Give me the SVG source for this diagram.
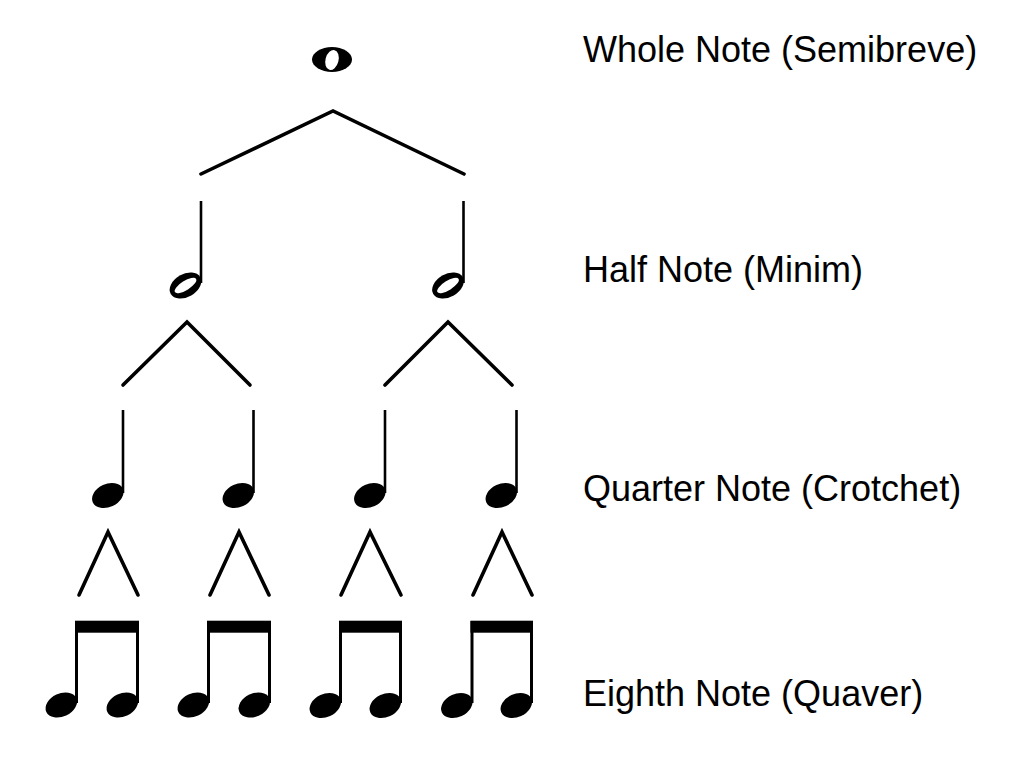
<svg xmlns="http://www.w3.org/2000/svg" xmlns:xlink="http://www.w3.org/1999/xlink" width="1024" height="767" viewBox="0 0 1024 767">
  <style>
    .lbl { font-family: "Liberation Sans", Arial, sans-serif; font-size: 36px; fill: #000; }
    .conn { fill: none; stroke: #000; stroke-width: 3.6; stroke-linecap: round; stroke-linejoin: miter; }
    .stem { stroke: #000; stroke-width: 2.6; }
    .stem8 { stroke: #000; stroke-width: 3; }
    .head { fill: #000; }
    .hole { fill: #fff; }
    .beam { fill: #000; }
  </style>
  <defs>
    <ellipse id="filled" class="head" cx="0" cy="0" rx="16.5" ry="11.5" transform="rotate(-25)"/>
    <g id="hollow">
      <ellipse class="head" cx="0" cy="0" rx="17" ry="11.5" transform="rotate(-30)"/>
      <ellipse class="hole" cx="0" cy="0" rx="12.5" ry="4.6" transform="rotate(-32)"/>
    </g>
  </defs>
  <rect x="0" y="0" width="1024" height="767" fill="#fff"/>

  <g id="connectors">
    <polyline class="conn" points="201,174 333,111 464,174"/>
    <polyline class="conn" points="123,385 187,322 250,385"/>
    <polyline class="conn" points="385,385 448,322 512,385"/>
    <polyline class="conn" points="79,595 108,532 138,595"/>
    <polyline class="conn" points="210,595 239,532 269,595"/>
    <polyline class="conn" points="341,595 370,532 401,595"/>
    <polyline class="conn" points="473,595 502,532 532,595"/>
  </g>

  <g id="whole-note">
    <ellipse class="head" cx="332" cy="59.5" rx="20" ry="12.5"/>
    <ellipse class="hole" cx="332" cy="60" rx="6.5" ry="10.2" transform="rotate(15 332 60)"/>
  </g>

  <g id="half-note-1">
    <line class="stem" x1="201" y1="201" x2="201" y2="283"/>
    <use xlink:href="#hollow" href="#hollow" transform="translate(185.5 285.5)"/>
  </g>
  <g id="half-note-2">
    <line class="stem" x1="463.5" y1="201" x2="463.5" y2="283"/>
    <use xlink:href="#hollow" href="#hollow" transform="translate(448 285.5)"/>
  </g>

  <g id="quarter-note-1">
    <line class="stem" x1="123" y1="410" x2="123" y2="493"/>
    <use xlink:href="#filled" href="#filled" transform="translate(107.8 495.5)"/>
  </g>
  <g id="quarter-note-2">
    <line class="stem" x1="253.5" y1="410" x2="253.5" y2="493"/>
    <use xlink:href="#filled" href="#filled" transform="translate(238.3 495.5)"/>
  </g>
  <g id="quarter-note-3">
    <line class="stem" x1="385" y1="410" x2="385" y2="493"/>
    <use xlink:href="#filled" href="#filled" transform="translate(369.8 495.5)"/>
  </g>
  <g id="quarter-note-4">
    <line class="stem" x1="516.5" y1="410" x2="516.5" y2="493"/>
    <use xlink:href="#filled" href="#filled" transform="translate(501.3 495.5)"/>
  </g>

  <g id="eighth-pair-1">
    <rect class="beam" x="75" y="620.7" width="64" height="12"/>
    <line class="stem8" x1="76.5" y1="621" x2="76.5" y2="703"/>
    <line class="stem8" x1="137.5" y1="621" x2="137.5" y2="703"/>
    <use xlink:href="#filled" href="#filled" transform="translate(61.3 705)"/>
    <use xlink:href="#filled" href="#filled" transform="translate(122.3 705)"/>
  </g>
  <g id="eighth-pair-2">
    <rect class="beam" x="207" y="620.7" width="64" height="12"/>
    <line class="stem8" x1="208.5" y1="621" x2="208.5" y2="703"/>
    <line class="stem8" x1="269.5" y1="621" x2="269.5" y2="703"/>
    <use xlink:href="#filled" href="#filled" transform="translate(193.3 705)"/>
    <use xlink:href="#filled" href="#filled" transform="translate(254.3 705)"/>
  </g>
  <g id="eighth-pair-3">
    <rect class="beam" x="339" y="620.7" width="63" height="12"/>
    <line class="stem8" x1="340.5" y1="621" x2="340.5" y2="703"/>
    <line class="stem8" x1="400.5" y1="621" x2="400.5" y2="703"/>
    <use xlink:href="#filled" href="#filled" transform="translate(325.3 705.5)"/>
    <use xlink:href="#filled" href="#filled" transform="translate(385.3 705.5)"/>
  </g>
  <g id="eighth-pair-4">
    <rect class="beam" x="470.5" y="620.7" width="62.5" height="12"/>
    <line class="stem8" x1="472" y1="621" x2="472" y2="703"/>
    <line class="stem8" x1="531.5" y1="621" x2="531.5" y2="703"/>
    <use xlink:href="#filled" href="#filled" transform="translate(456.8 705.5)"/>
    <use xlink:href="#filled" href="#filled" transform="translate(516.3 705.5)"/>
  </g>

  <g id="labels">
    <text class="lbl" x="583" y="62">Whole Note (Semibreve)</text>
    <text class="lbl" x="583" y="282">Half Note (Minim)</text>
    <text class="lbl" x="583" y="501">Quarter Note (Crotchet)</text>
    <text class="lbl" x="583" y="706">Eighth Note (Quaver)</text>
  </g>
</svg>
